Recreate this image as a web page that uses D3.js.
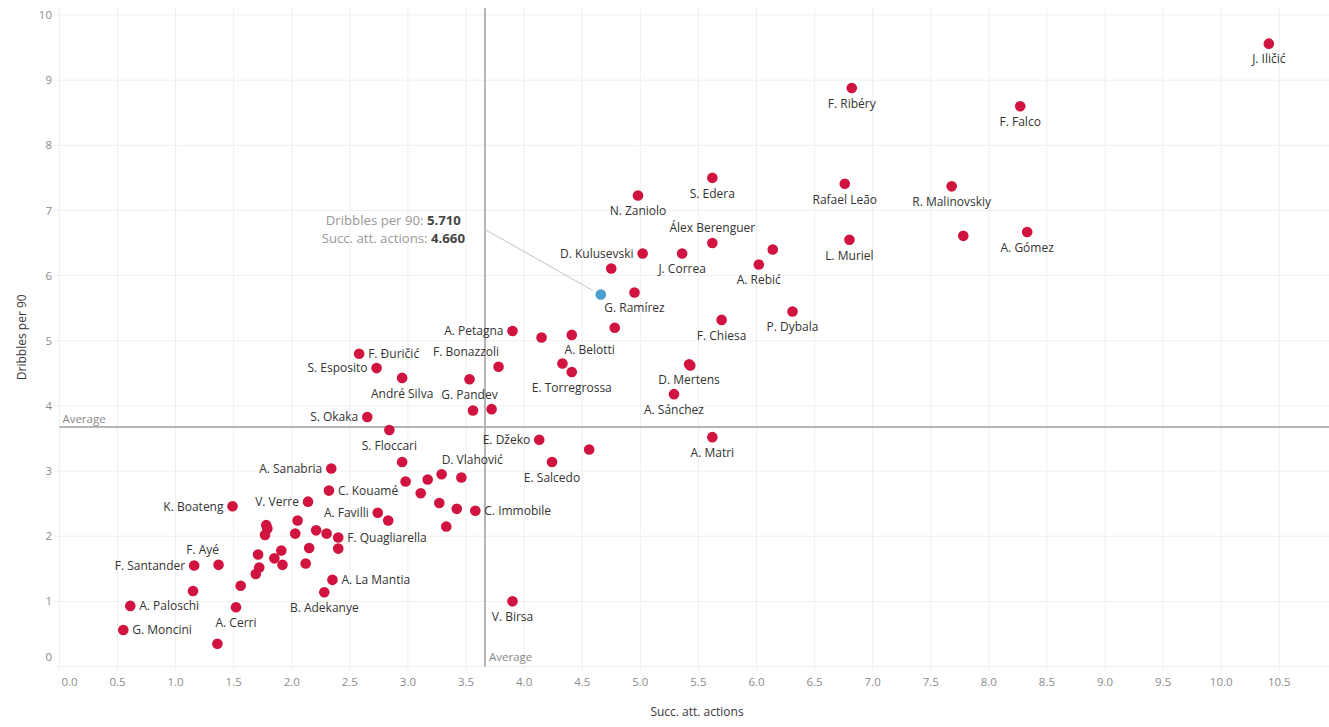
<!DOCTYPE html>
<html><head><meta charset="utf-8">
<script src="https://cdn.jsdelivr.net/npm/d3@7"></script>
<style>
body{margin:0;background:#fff;}
svg{display:block;font-family:"Open Sans",Lato,sans-serif;}
</style>
</head><body>
<svg id="chart" width="1329" height="727"></svg>
<script>
// ---- data ----
const players = [
 "J. Iličić","F. Falco","R. Malinovskiy","","A. Gómez","F. Ribéry","S. Edera","N. Zaniolo","Rafael Leão","Álex Berenguer",
 "D. Kulusevski","","J. Correa","","A. Rebić","L. Muriel","__hover","G. Ramírez","F. Chiesa","P. Dybala",
 "A. Belotti","","","A. Petagna","F. Đuričić","S. Esposito","André Silva","F. Bonazzoli","G. Pandev","",
 "","S. Okaka","S. Floccari","E. Džeko","","E. Torregrossa","","D. Mertens","","A. Sánchez",
 "A. Matri","E. Salcedo","A. Sanabria","C. Kouamé","K. Boateng","V. Verre","A. Favilli","","","",
 "","D. Vlahović","","","","C. Immobile","","","","",
 "","","","","F. Quagliarella","","","","","",
 "","","","","","F. Ayé","F. Santander","","","A. La Mantia",
 "B. Adekanye","A. Paloschi","A. Cerri","G. Moncini","","V. Birsa"
];
const succAttActions = [
 10.41,8.27,7.68,7.78,8.33,6.82,5.62,4.98,6.76,5.62,
 5.02,4.75,5.36,6.14,6.02,6.80,4.66,4.95,5.70,6.31,
 4.78,4.41,4.15,3.90,2.58,2.73,2.95,3.78,3.53,3.56,
 3.72,2.65,2.84,4.13,4.56,4.41,4.33,5.42,5.43,5.29,
 5.62,4.24,2.34,2.32,1.49,2.14,2.74,2.83,2.95,2.98,
 3.17,3.29,3.46,3.11,3.27,3.58,3.42,3.33,2.05,1.78,
 1.79,1.77,2.03,2.21,2.40,2.30,2.40,2.15,2.12,1.91,
 1.85,1.92,1.71,1.72,1.69,1.37,1.16,1.15,1.56,2.35,
 2.28,0.61,1.52,0.55,1.36,3.90
];
const dribblesPer90 = [
 9.56,8.60,7.37,6.61,6.67,8.88,7.50,7.23,7.41,6.50,
 6.34,6.11,6.34,6.40,6.17,6.55,5.71,5.74,5.32,5.45,
 5.20,5.09,5.05,5.15,4.80,4.58,4.43,4.60,4.41,3.93,
 3.95,3.83,3.63,3.48,3.33,4.52,4.65,4.64,4.62,4.18,
 3.52,3.14,3.04,2.70,2.46,2.53,2.36,2.24,3.14,2.84,
 2.87,2.95,2.90,2.66,2.51,2.39,2.42,2.15,2.24,2.17,
 2.12,2.02,2.04,2.09,1.98,2.04,1.81,1.82,1.58,1.78,
 1.66,1.56,1.72,1.52,1.42,1.56,1.55,1.16,1.24,1.33,
 1.14,0.93,0.91,0.56,0.35,1.00
];
const xTickValues = [0,0.5,1,1.5,2,2.5,3,3.5,4,4.5,5,5.5,6,6.5,7,7.5,8,8.5,9,9.5,10,10.5];
const yTickValues = [0,1,2,3,4,5,6,7,8,9,10];
const avgSucc = 3.663, avgDribbles = 3.676;
const hoverName = "__hover";
const hoverLines = [["Dribbles per 90: ","5.710"],["Succ. att. actions: ","4.660"]];
const xTitle = "Succ. att. actions", yTitle = "Dribbles per 90", avgText = "Average";

// label placement (b = below by default)
const labelSide = {
 "Álex Berenguer":"t","D. Kulusevski":"l","A. Belotti":"bl","A. Petagna":"l","F. Đuričić":"r",
 "S. Esposito":"l","F. Bonazzoli":"tl","S. Okaka":"l","E. Džeko":"l","A. Sanabria":"l",
 "C. Kouamé":"r","K. Boateng":"l","V. Verre":"l","A. Favilli":"l","D. Vlahović":"tr",
 "C. Immobile":"r","F. Quagliarella":"r","F. Ayé":"tl","F. Santander":"l","A. La Mantia":"r",
 "A. Paloschi":"r","G. Moncini":"r"
};

// ---- layout ----
const svg = d3.select("#chart");
const plot = {left:59.4, right:1329, top:8, bottom:666.5};
const x = d3.scaleLinear().domain([0,10.5]).range([59.4,1279.3]);
const y = d3.scaleLinear().domain([0,10]).range([666.5,15]);
const data = players.map((n,i)=>({name:n, x:succAttActions[i], y:dribblesPer90[i]}));

const grid = svg.append("g");
grid.selectAll("line.vx").data(xTickValues).join("line")
  .attr("x1",d=>x(d)).attr("x2",d=>x(d)).attr("y1",plot.top).attr("y2",plot.bottom+4.5)
  .attr("stroke","#efefef").attr("stroke-width",1);
grid.selectAll("line.hy").data(yTickValues).join("line")
  .attr("x1",54).attr("x2",plot.right).attr("y1",d=>y(d)).attr("y2",d=>y(d))
  .attr("stroke","#efefef").attr("stroke-width",1);

// x tick labels
svg.append("g").selectAll("text").data(xTickValues).join("text")
  .attr("x",(d,i)=> i===0 ? x(d)+2 : x(d))
  .attr("y",686)
  .attr("text-anchor",(d,i)=> i===0 ? "start":"middle")
  .attr("font-size",11.5).attr("fill","#8c8c8c")
  .text(d=>d3.format(".1f")(d));
// y tick labels
svg.append("g").selectAll("text").data(yTickValues).join("text")
  .attr("x",52)
  .attr("y",d=> d===0 ? y(d)-9.5+4.1 : y(d)+4.1)
  .attr("text-anchor","end")
  .attr("font-size",11.5).attr("fill","#8c8c8c")
  .text(d=>d);

// axis titles
svg.append("text").attr("x",697).attr("y",716)
  .attr("text-anchor","middle").attr("font-size",12).attr("fill","#3a3a3a")
  .text(xTitle);
svg.append("text").attr("transform",`translate(26,${(plot.top+plot.bottom)/2}) rotate(-90)`)
  .attr("text-anchor","middle").attr("font-size",12).attr("fill","#3a3a3a")
  .text(yTitle);

// average lines
svg.append("line").attr("x1",x(avgSucc)).attr("x2",x(avgSucc)).attr("y1",plot.top).attr("y2",plot.bottom)
  .attr("stroke","#b5b5b5").attr("stroke-width",2);
svg.append("line").attr("x1",plot.left).attr("x2",plot.right).attr("y1",y(avgDribbles)).attr("y2",y(avgDribbles))
  .attr("stroke","#b5b5b5").attr("stroke-width",2);
svg.append("text").attr("x",plot.left+3).attr("y",y(avgDribbles)-8+4).attr("font-size",11.5).attr("fill","#888").text(avgText);
svg.append("text").attr("x",x(avgSucc)+4).attr("y",plot.bottom-9.5+4).attr("font-size",11.5).attr("fill","#888").text(avgText);

// tooltip line
const hv = data.find(d=>d.name===hoverName);
svg.append("line").attr("x1",485).attr("y1",229.5).attr("x2",x(hv.x)-8).attr("y2",y(hv.y)-4)
  .attr("stroke","#d0d0d0").attr("stroke-width",1.2);

// points
svg.append("g").selectAll("circle").data(data).join("circle")
  .attr("cx",d=>x(d.x)).attr("cy",d=>y(d.y)).attr("r",5.3)
  .attr("fill",d=>d.name===hoverName ? "#4a9fd0" : "#d0143f");

// labels
const fs = 12, mid = 4.3;
function place(d){
  const px = x(d.x), py = y(d.y);
  const s = labelSide[d.name] || "b";
  switch(s){
    case "t": return [px, py-15, "middle"];
    case "l": return [px-9, py, "end"];
    case "r": return [px+9, py, "start"];
    case "tl": return [px+0.5, py-15.5, "end"];
    case "tr": return [px, py-14.5, "start"];
    case "bl": return [px, py+22, "end"];
    default: return [px, py+15.5, "middle"];
  }
}
svg.append("g").selectAll("text").data(data.filter(d=>d.name && d.name!==hoverName)).join("text")
  .each(function(d){
    const [lx,ly,a] = place(d);
    d3.select(this).attr("x",lx).attr("y",ly+mid).attr("text-anchor",a);
  })
  .attr("font-size",fs).attr("fill","#333")
  .text(d=>d.name);

// tooltip text
const tt = svg.append("g");
hoverLines.forEach((ln,i)=>{
  const t = tt.append("text").attr("x",393.3).attr("y",220.7+i*18+4.6)
    .attr("text-anchor","middle").attr("font-size",13.2);
  t.append("tspan").attr("fill","#999").text(ln[0]);
  t.append("tspan").attr("fill","#444").attr("font-weight",700).text(ln[1]);
});
</script>
</body></html>
